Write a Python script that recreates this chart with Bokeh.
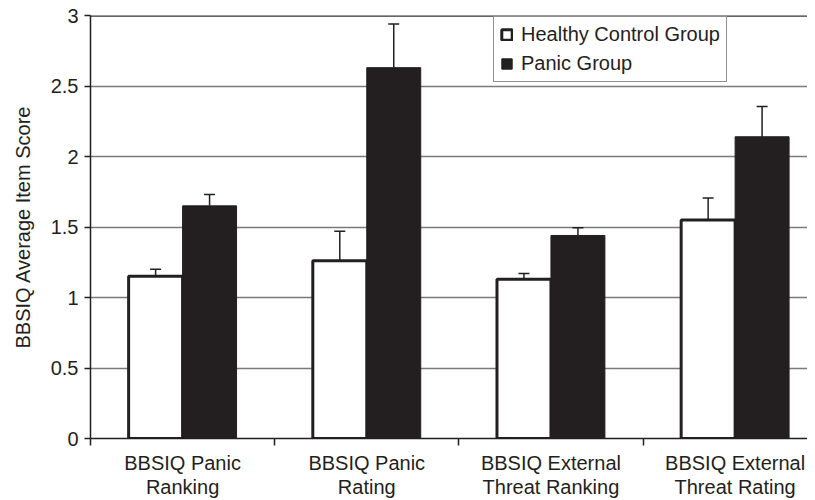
from bokeh.plotting import figure
from bokeh.models import Range1d, FixedTicker, Whisker, ColumnDataSource, Legend, LegendItem, TeeHead
from bokeh.embed import file_html
from bokeh.resources import INLINE

categories = ["BBSIQ Panic\nRanking", "BBSIQ Panic\nRating", "BBSIQ External\nThreat Ranking", "BBSIQ External\nThreat Rating"]
control_mean = [1.15, 1.26, 1.13, 1.55]
control_err = [0.05, 0.21, 0.04, 0.155]
panic_mean = [1.65, 2.63, 1.44, 2.14]
panic_err = [0.08, 0.31, 0.055, 0.215]
y_ticks = [0, 0.5, 1, 1.5, 2, 2.5, 3]
y_tick_labels = ["0", "0.5", "1", "1.5", "2", "2.5", "3"]

INK = "#231f20"
FONT = "Liberation Sans"
BW = 0.293
X_END = 3.893

n = len(categories)
centers = [i + 0.5 for i in range(n)]
xc = [c - BW / 2 for c in centers]
xp = [c + BW / 2 for c in centers]

p = figure(width=807, height=492, output_backend="svg", toolbar_location=None,
           x_range=Range1d(0, X_END), y_range=Range1d(0, 3),
           min_border_left=90, min_border_right=0, min_border_top=15, min_border_bottom=54)
p.frame_width = 717
p.frame_height = 423
p.outline_line_color = None
p.background_fill_color = "white"

# grid
p.xgrid.visible = False
p.ygrid.ticker = FixedTicker(ticks=y_ticks[1:])
p.ygrid.grid_line_color = "#7a7a7a"
p.ygrid.grid_line_width = 1.5

src_c = ColumnDataSource(dict(x=xc, top=control_mean, lo=[m - e for m, e in zip(control_mean, control_err)],
                              hi=[m + e for m, e in zip(control_mean, control_err)]))
src_p = ColumnDataSource(dict(x=xp, top=panic_mean, lo=panic_mean,
                              hi=[m + e for m, e in zip(panic_mean, panic_err)]))

r_c = p.vbar(x="x", top="top", bottom=0, width=BW, source=src_c, fill_color="white",
             line_color=INK, line_width=3)
r_p = p.vbar(x="x", top="top", bottom=0, width=BW, source=src_p, fill_color=INK,
             line_color=INK, line_width=1)

w1 = Whisker(base="x", lower="lo", upper="hi", source=src_c, line_color=INK, line_width=1.5,
             upper_head=TeeHead(size=11, line_color=INK, line_width=1.5),
             lower_head=TeeHead(size=11, line_color=INK, line_width=1.5))
w2 = Whisker(base="x", lower="lo", upper="hi", source=src_p, line_color=INK, line_width=1.5,
             upper_head=TeeHead(size=11, line_color=INK, line_width=1.5), lower_head=None)
p.add_layout(w1)
p.add_layout(w2)

# top line at 3 (darker)
p.line(x=[0, X_END], y=[3, 3], line_color="#333333", line_width=2.5)

# axes
p.yaxis.ticker = FixedTicker(ticks=y_ticks)
p.yaxis.major_label_overrides = {t: l for t, l in zip(y_ticks, y_tick_labels)}
p.yaxis.axis_label = "BBSIQ Average Item Score"
p.yaxis.axis_label_text_font = FONT
p.yaxis.axis_label_text_font_style = "normal"
p.yaxis.axis_label_text_font_size = "20px"
p.yaxis.axis_label_text_color = INK
p.yaxis.axis_label_standoff = 14
p.yaxis.major_label_text_font = FONT
p.yaxis.major_label_text_font_size = "20px"
p.yaxis.major_label_text_color = INK
p.yaxis.major_label_standoff = 6
p.yaxis.major_tick_out = 6
p.yaxis.major_tick_in = 0
p.yaxis.minor_tick_out = 0
p.yaxis.minor_tick_in = 0
p.yaxis.axis_line_color = INK
p.yaxis.axis_line_width = 1.5
p.yaxis.major_tick_line_color = INK
p.yaxis.major_tick_line_width = 1.5

p.xaxis.ticker = FixedTicker(ticks=centers, minor_ticks=list(range(n + 1)))
p.xaxis.major_label_overrides = {c: l for c, l in zip(centers, categories)}
p.xaxis.major_label_text_font = FONT
p.xaxis.major_label_text_font_size = "20px"
p.xaxis.major_label_text_color = INK
p.xaxis.major_label_text_line_height = 1.12
p.xaxis.major_label_standoff = 6
p.xaxis.major_tick_out = 0
p.xaxis.major_tick_in = 0
p.xaxis.minor_tick_out = 7
p.xaxis.minor_tick_in = 0
p.xaxis.minor_tick_line_color = INK
p.xaxis.minor_tick_line_width = 1.5
p.xaxis.axis_line_color = INK
p.xaxis.axis_line_width = 1.5

legend = Legend(items=[LegendItem(label="Healthy Control Group", renderers=[r_c]),
                       LegendItem(label="Panic Group", renderers=[r_p])],
                location=(403, 356), orientation="vertical")
legend.label_text_font = FONT
legend.label_text_font_size = "20px"
legend.label_text_color = INK
legend.glyph_width = 13
legend.glyph_height = 13
legend.label_standoff = 8
legend.spacing = 6
legend.padding = 6
legend.margin = 0
legend.label_height = 20
legend.border_line_color = INK
legend.border_line_width = 1.2
legend.background_fill_alpha = 1
p.add_layout(legend)

open("out.html", "w").write(file_html(p, INLINE))
